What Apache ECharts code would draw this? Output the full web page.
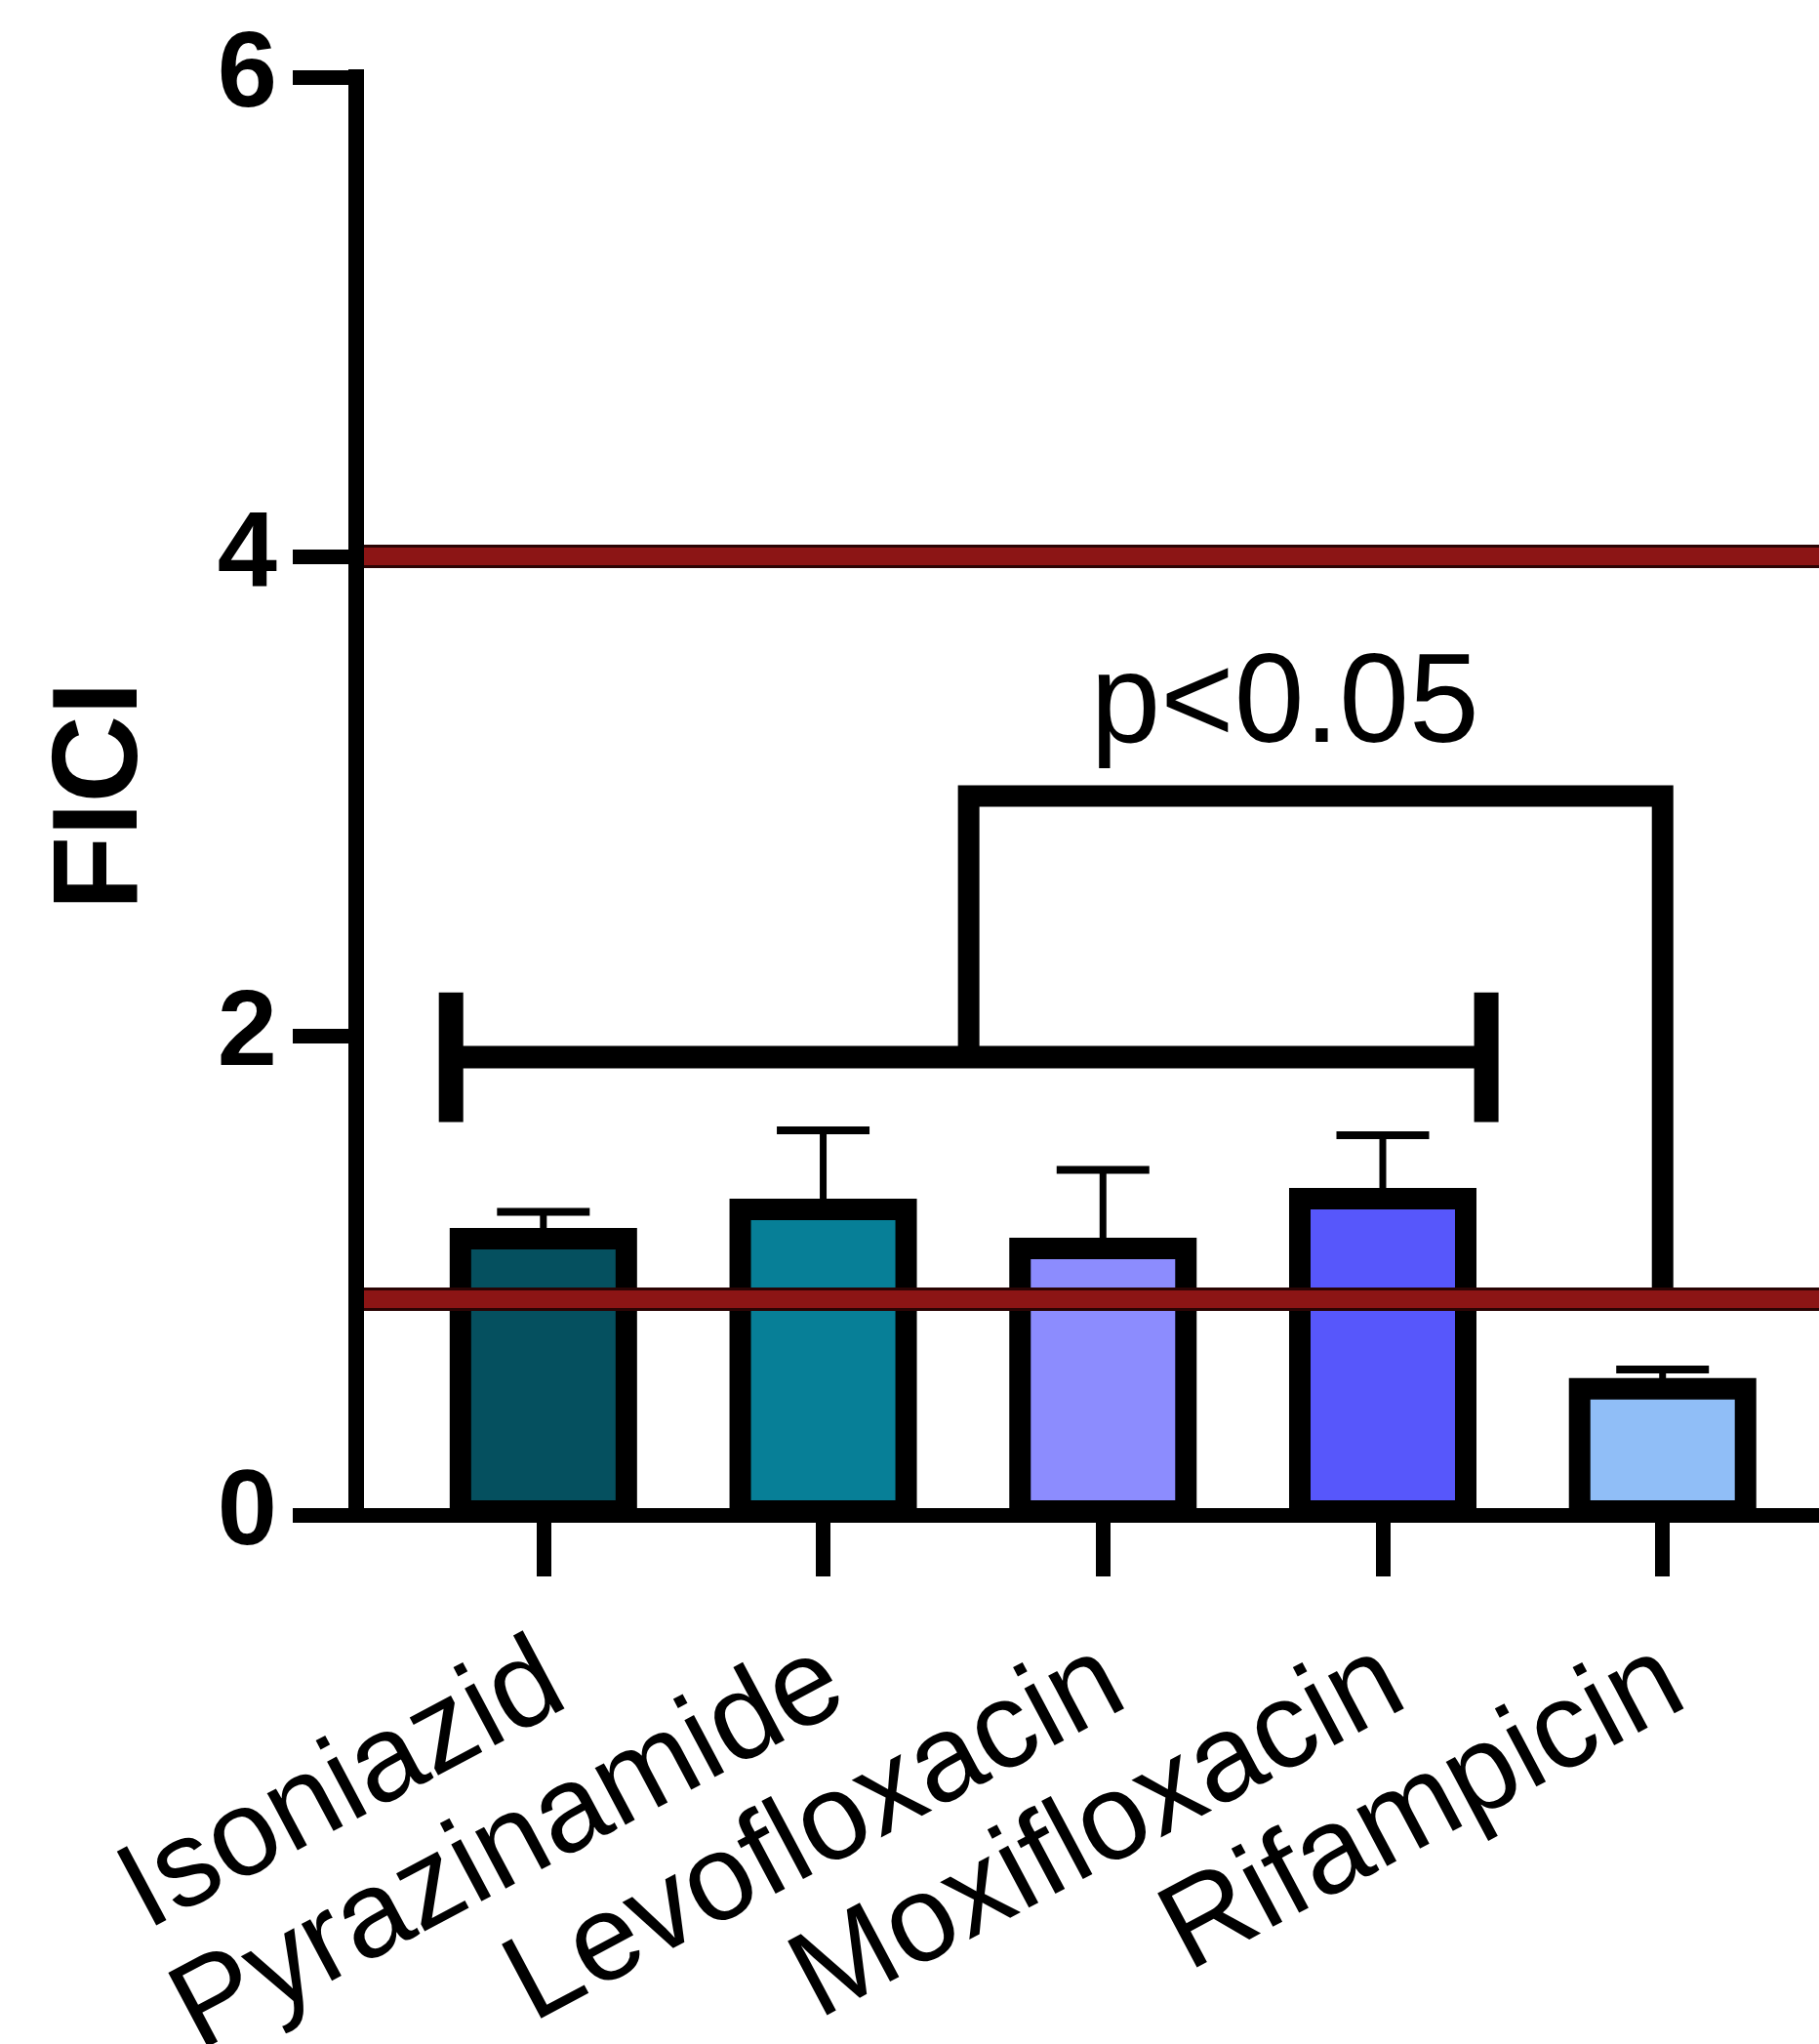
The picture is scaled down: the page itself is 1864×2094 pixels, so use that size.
<!DOCTYPE html>
<html>
<head>
<meta charset="utf-8">
<script src="https://cdn.jsdelivr.net/npm/echarts@6/dist/echarts.min.js"></script>
<style>
html,body{margin:0;padding:0;background:#fff;}
#chart{width:1864px;height:2094px;}
</style>
</head>
<body>
<div id="chart"></div>
<script>
// ---- data ----
const categories = ['Isoniazid', 'Pyrazinamide', 'Levofloxacin', 'Moxifloxacin', 'Rifampicin'];
const positions = [1, 2, 3, 4, 5];
const means = [1.153, 1.275, 1.112, 1.320, 0.526];
const upperErr = [1.265, 1.605, 1.440, 1.585, 0.607];
const thresholds = [0.9, 4];
const yTickValues = [0, 2, 4, 6];
// comparison annotation (data units)
const groupSpan = [0.67, 4.37];
const groupLevel = [1.91];
const groupEndHalf = [0.27];
const sigLegX = [2.52, 5];
const sigTop = [3.0];
const sigFoot = [0.9];
const pLabel = ['p<0.05'];
const pLabelPos = [3.65, 3.37];

// ---- styles ----
const barColors = ['#05505F', '#077F97', '#8C8CFE', '#5757FB', '#90BEF7'];
const FONT = "'Liberation Sans', Arial, Helvetica, sans-serif";

const chart = echarts.init(document.getElementById('chart'), null, {renderer: 'canvas'});

const barData = positions.map((x, i) => [x, means[i], i]);
const errData = positions.map((x, i) => [x, means[i], upperErr[i]]);

const option = {
  animation: false,
  backgroundColor: '#fff',
  grid: {left: 365, right: 0, top: 79, bottom: 542, containLabel: false, outerBoundsMode: 'none'},
  xAxis: {
    type: 'value',
    min: 0.331,
    max: 5.559,
    z: 10,
    splitLine: {show: false},
    axisLine: {show: true, onZero: false, lineStyle: {color: '#000', width: 15}},
    axisTick: {show: true, customValues: positions, length: 63, lineStyle: {color: '#000', width: 15}},
    axisLabel: {
      show: true,
      customValues: positions,
      formatter: v => categories[Math.round(v) - 1] || '',
      rotate: 28,
      margin: 140,
      verticalAlign: 'top',
      lineHeight: 54,
      fontSize: 125,
      fontFamily: FONT,
      color: '#000'
    }
  },
  yAxis: {
    type: 'value',
    min: 0,
    max: 6,
    interval: 2,
    z: 10,
    name: 'FICI',
    nameLocation: 'middle',
    nameRotate: 90,
    nameGap: 197,
    nameTextStyle: {fontSize: 124, fontWeight: 'bold', fontFamily: FONT, color: '#000'},
    splitLine: {show: false},
    axisLine: {show: true, lineStyle: {color: '#000', width: 16, cap: 'square'}},
    axisTick: {show: true, length: 65, lineStyle: {color: '#000', width: 15}},
    axisLabel: {
      show: true,
      customValues: yTickValues,
      margin: 81,
      fontSize: 110,
      fontWeight: 'bold',
      fontFamily: FONT,
      color: '#000'
    }
  },
  series: [
    {
      // threshold lines (dark rim)
      type: 'line', data: [], z: 1, silent: true,
      markLine: {
        silent: true, symbol: 'none', animation: false,
        label: {show: false},
        lineStyle: {color: '#2a0404', width: 24, type: 'solid'},
        data: thresholds.map(t => ({yAxis: t}))
      }
    },
    {
      // threshold lines (red core)
      type: 'line', data: [], z: 1, silent: true,
      markLine: {
        silent: true, symbol: 'none', animation: false,
        label: {show: false},
        lineStyle: {color: '#8c1515', width: 18, type: 'solid'},
        data: thresholds.map(t => ({yAxis: t}))
      }
    },
    {
      // error bars
      type: 'custom', z: 2, silent: true,
      data: errData,
      renderItem: function (params, api) {
        const x = api.value(0);
        const lo = api.coord([x, api.value(1)]);
        const hi = api.coord([x, api.value(2)]);
        const half = 47.5;
        return {
          type: 'group',
          children: [
            {type: 'line', shape: {x1: lo[0], y1: lo[1], x2: hi[0], y2: hi[1]}, style: {stroke: '#000', lineWidth: 7}},
            {type: 'line', shape: {x1: hi[0] - half, y1: hi[1], x2: hi[0] + half, y2: hi[1]}, style: {stroke: '#000', lineWidth: 8}}
          ]
        };
      }
    },
    {
      // bars (border centred on the mean)
      type: 'custom', z: 3, silent: true,
      data: barData,
      renderItem: function (params, api) {
        const x = api.value(0);
        const top = api.coord([x, api.value(1)]);
        const base = api.coord([x, 0]);
        const w = 170;
        const idx = api.value(2);
        return {
          type: 'rect',
          shape: {x: top[0] - w / 2, y: top[1], width: w, height: base[1] - top[1] - 4},
          style: {fill: barColors[idx], stroke: '#000', lineWidth: 22, lineJoin: 'miter'}
        };
      }
    },
    {
      // comparison brackets + label
      type: 'custom', z: 4, silent: true,
      data: [[0]],
      renderItem: function (params, api) {
        const y = groupLevel[0];
        const a = api.coord([groupSpan[0], y]);
        const b = api.coord([groupSpan[1], y]);
        const aT = api.coord([groupSpan[0], y + groupEndHalf[0]]);
        const aB = api.coord([groupSpan[0], y - groupEndHalf[0]]);
        const bT = api.coord([groupSpan[1], y + groupEndHalf[0]]);
        const bB = api.coord([groupSpan[1], y - groupEndHalf[0]]);
        const p1 = api.coord([sigLegX[0], y]);
        const p2 = api.coord([sigLegX[0], sigTop[0]]);
        const p3 = api.coord([sigLegX[1], sigTop[0]]);
        const p4 = api.coord([sigLegX[1], sigFoot[0]]);
        const tp = api.coord(pLabelPos);
        return {
          type: 'group',
          children: [
            {type: 'line', shape: {x1: a[0], y1: a[1], x2: b[0], y2: b[1]}, style: {stroke: '#000', lineWidth: 23}},
            {type: 'line', shape: {x1: aT[0], y1: aT[1], x2: aB[0], y2: aB[1]}, style: {stroke: '#000', lineWidth: 25}},
            {type: 'line', shape: {x1: bT[0], y1: bT[1], x2: bB[0], y2: bB[1]}, style: {stroke: '#000', lineWidth: 25}},
            {type: 'polyline', shape: {points: [p1, p2, p3, p4]}, style: {stroke: '#000', fill: null, lineWidth: 22, lineJoin: 'miter'}},
            {type: 'text', x: tp[0], y: tp[1], style: {text: pLabel[0], fill: '#000', font: "129px " + FONT, align: 'center', verticalAlign: 'middle'}}
          ]
        };
      }
    }
  ]
};
chart.setOption(option);
</script>
</body>
</html>
